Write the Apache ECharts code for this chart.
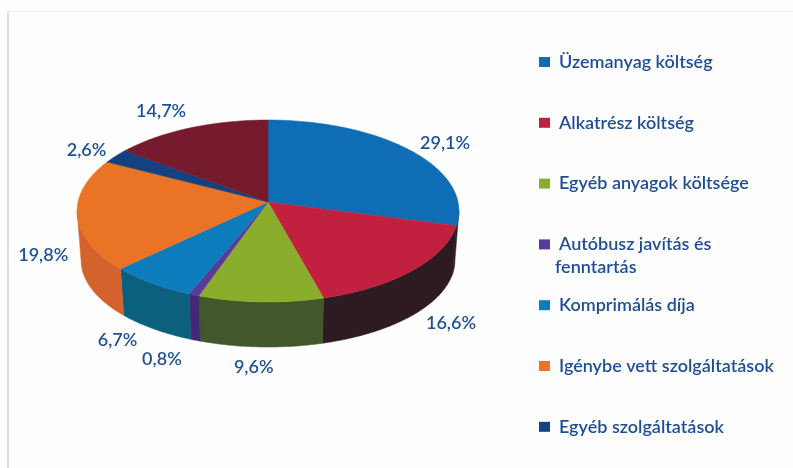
<!DOCTYPE html>
<html><head><meta charset="utf-8">
<style>html,body{margin:0;padding:0;background:#fff}#c{width:793px;height:468px}</style>
<script src="https://cdn.jsdelivr.net/npm/echarts@6/dist/echarts.min.js"></script>
</head><body><div id="c"></div>
<script>
const categories = ['Üzemanyag költség','Alkatrész költség','Egyéb anyagok költsége','Autóbusz javítás és fenntartás','Komprimálás díja','Igénybe vett szolgáltatások','Egyéb szolgáltatások','Egyéb'];
const values = [29.1,16.6,9.6,0.8,6.7,19.8,2.6,14.7];
const legendNames = categories.slice(0,7);
const topColors = ['#0f6db5','#c2203f','#8aae2c','#5a3a98','#0c7cbd','#ea7325','#14417f','#761b2e'];
const sideColors = ['#2e1b22','#2e1b22','#42572a','#43287a','#0b607e','#d4622c','#0e2f5c','#55141f'];
const labelOffsets = [[35,-7],[38,53],[-7,65],[-32,64],[-34,57],[-34,40],[-29,-6],[-29,-17]];

const total = values.reduce((a,b)=>a+b,0);
const P = {cx:268, cy:202, a:190, b:90.1, k:0.0989, cyB:251.6, aB:186, bB:86};
const DEG = Math.PI/180;
const FONT = '600 18px Lato, "Open Sans", sans-serif';
function topPt(t){const w=1+P.k*Math.cos(t);return [P.cx+P.a*Math.sin(t)/w,P.cy-P.b*Math.cos(t)/w];}
function botPt(t){const w=1+P.k*Math.cos(t);return [P.cx+P.aB*Math.sin(t)/w,P.cyB-P.bB*Math.cos(t)/w];}
function arc(fn,a0,a1){const n=Math.max(2,Math.ceil((a1-a0)/(1*DEG)));const o=[];for(let i=0;i<=n;i++)o.push(fn(a0+(a1-a0)*i/n));return o;}
const SIDE0=95.7*DEG, SIDE1=264.3*DEG;

function renderSlice(params,api){
  const i=params.seriesIndex;
  let before=0;for(let j=0;j<i;j++)before+=values[j];
  const a0=before/total*2*Math.PI, a1=(before+api.value(0))/total*2*Math.PI;
  const children=[];
  const s0=Math.max(a0,SIDE0), s1=Math.min(a1,SIDE1);
  if(s1>s0){
    const pts=arc(topPt,s0,s1).concat(arc(botPt,s0,s1).reverse());
    children.push({type:'polygon',shape:{points:pts},silent:true,style:{fill:sideColors[i],stroke:sideColors[i],lineWidth:0.5}});
  }
  const pts=[[P.cx,P.cy]].concat(arc(topPt,a0,a1));
  children.push({type:'polygon',shape:{points:pts},silent:true,style:{fill:topColors[i],stroke:topColors[i],lineWidth:0.5}});
  const m=topPt((a0+a1)/2), o=labelOffsets[i];
  children.push({type:'text',silent:true,z2:10,style:{x:m[0]+o[0],y:m[1]+o[1],text:api.value(0).toFixed(1).replace('.',',')+'%',
    fill:'#1f5197',font:FONT,align:'center',verticalAlign:'middle'}});
  return {type:'group',children};
}

const series=categories.map((n,i)=>({
  type:'custom',name:n,coordinateSystem:'none',renderItem:renderSlice,
  data:[[values[i]]],itemStyle:{color:topColors[i]},animation:false,z:2
}));

const chart=echarts.init(document.getElementById('c'),null,{renderer:'canvas'});
chart.setOption({
  animation:false,backgroundColor:'#fefefe',
  legend:{data:legendNames,orient:'vertical',left:539,top:53,padding:0,itemWidth:11,itemHeight:10,itemGap:42.8,icon:'rect',
    selectedMode:false,
    formatter:function(n){return n.indexOf('Autóbusz')===0?'Autóbusz javítás és':n;},
    textStyle:{color:'#1f4e96',fontFamily:'Lato, "Open Sans", sans-serif',fontSize:18,fontWeight:600,lineHeight:18,padding:[0,0,0,4]}},
  graphic:[
    {type:'rect',silent:true,shape:{x:7,y:11,width:2,height:457},style:{fill:'#dedee6'}},
    {type:'rect',silent:true,shape:{x:8,y:11,width:785,height:1},style:{fill:'#efeff3'}},
    {type:'text',silent:true,style:{x:555,y:267,text:'fenntartás',fill:'#1f4e96',font:FONT,verticalAlign:'middle'}}
  ],
  series
});
</script></body></html>
